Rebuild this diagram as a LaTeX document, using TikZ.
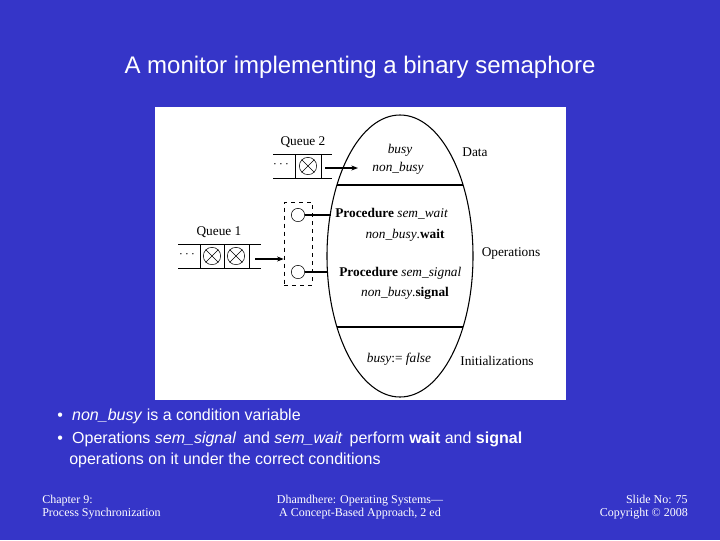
\documentclass[tikz,border=0pt]{standalone}
\usepackage{fontspec}
\setmainfont{Liberation Serif}
\newfontfamily\arial{Liberation Sans}
\usetikzlibrary{arrows.meta}
\definecolor{bg}{HTML}{3535C8}
\begin{document}
\begin{tikzpicture}[x=0.75pt,y=-0.75pt,
  dt/.style={font=\fontsize{10}{11}\selectfont,inner sep=0pt},
  wt/.style={text=white,font=\arial\fontsize{12}{14}\selectfont,inner sep=0pt,anchor=west},
  ft/.style={text=white,font=\fontsize{9}{10}\selectfont,inner sep=0pt,align=center},
  arr/.style={-{Stealth[length=5pt]},thick}]
\fill[bg] (0,0) rectangle (720,540);
\useasboundingbox (0,0) rectangle (720,540);
\fill[white] (155,107) rectangle (566,400);
\node[text=white,font=\arial\fontsize{18}{20}\selectfont] (title) at (360,67) {A monitor implementing a binary semaphore};
% ellipse
\begin{scope}
\clip (400,256) ellipse [x radius=73, y radius=141];
\draw[thick] (300,185) -- (500,185);
\draw[thick] (300,327) -- (500,327);
\end{scope}
\draw[thick] (400,256) ellipse [x radius=73, y radius=141];
% Queue 2
\draw (273,154) -- (332,154) (273,178) -- (332,178);
\draw (295,154) -- (295,178) (321,154) -- (321,178);
\node[draw,circle,minimum size=13pt,inner sep=0pt] (x2) at (308,166) {};
\draw (x2.north west) -- (x2.south east) (x2.north east) -- (x2.south west);
\node[dt] (d2) at (281,165) {$\cdots$};
\node[dt] (q2) at (303,142) {Queue 2};
\coordinate (a2s) at (325,168); \coordinate (a2e) at (358,168);
\draw[arr] (a2s) -- (a2e);
\node[dt,font=\itshape\fontsize{10}{11}\selectfont] (busy) at (400,150) {busy};
\node[dt,font=\itshape\fontsize{10}{11}\selectfont] (nb) at (398,168) {non\_busy};
\node[dt] (data) at (475,152) {Data};
% Queue 1
\draw (178,244) -- (261,244) (178,268) -- (261,268);
\draw (200,244) -- (200,268) (224,244) -- (224,268) (249,244) -- (249,268);
\node[draw,circle,minimum size=13pt,inner sep=0pt] (x1a) at (212,256) {};
\node[draw,circle,minimum size=13pt,inner sep=0pt] (x1b) at (236,256) {};
\draw (x1a.north west) -- (x1a.south east) (x1a.north east) -- (x1a.south west);
\draw (x1b.north west) -- (x1b.south east) (x1b.north east) -- (x1b.south west);
\node[dt] (d1) at (187,255) {$\cdots$};
\node[dt] (q1) at (219,232) {Queue 1};
\node[draw,dashed,minimum width=21pt,minimum height=62pt,inner sep=0pt] (dbox) at (298,243.5) {};
\coordinate (a1s) at (255,259);
\draw[arr] (a1s) -- (a1s -| dbox.west);
\node[draw,circle,minimum size=10pt,inner sep=0pt] (c1) at (298,215) {};
\node[draw,circle,minimum size=10pt,inner sep=0pt] (c2) at (298,272) {};
\coordinate (e1) at (331,215); \coordinate (e2) at (327,272);
\draw[thick] (c1) -- (e1); \draw[thick] (c2) -- (e2);
\node[dt,anchor=west] (p1) at (335,214) {\textbf{Procedure} \textit{sem\_wait}};
\node[dt] (w1) at (405,235) {\textit{non\_busy}.\textbf{wait}};
\node[dt,anchor=west] (p2) at (339,273) {\textbf{Procedure} \textit{sem\_signal}};
\node[dt] (s1) at (405,293) {\textit{non\_busy}.\textbf{signal}};
\node[dt] (ops) at (511,253) {Operations};
\node[dt] (init) at (399,359) {\textit{busy}:= \textit{false}};
\node[dt] (inits) at (497,361) {Initializations};
% bullets
\node[wt] (b1) at (57,416) {\textbullet\hspace{7pt}\textit{non\_busy} is a condition variable};
\node[wt] (b2) at (57,439) {\textbullet\hspace{7pt}Operations \textit{sem\_signal} \,and \textit{sem\_wait} \,perform \textbf{wait} and \textbf{signal}};
\node[wt] (b3) at (69,460) {operations on it under the correct conditions};
% footer
\node[ft,anchor=west,align=left] (f1) at (42,507) {Chapter 9:\\Process Synchronization};
\node[ft] (f2) at (360,507) {Dhamdhere: Operating Systems---\\A Concept-Based Approach, 2 ed};
\node[ft,anchor=east,align=right] (f3) at (688,507) {Slide No: 75\\Copyright \textcopyright{} 2008};
\end{tikzpicture}
\end{document}
